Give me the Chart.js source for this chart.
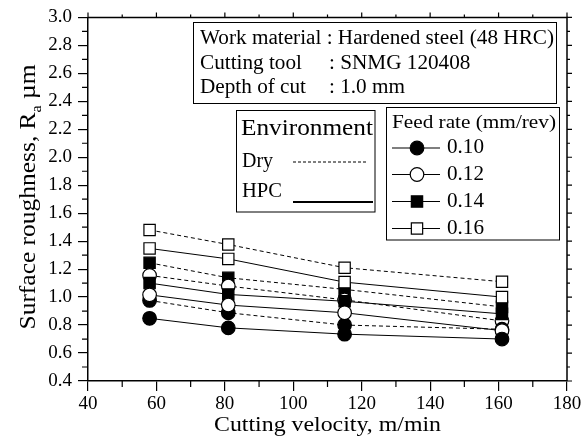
<!DOCTYPE html>
<html><head><meta charset="utf-8">
<script src="https://cdn.jsdelivr.net/npm/chart.js@4"></script>
<style>html,body{margin:0;padding:0;background:#fff}canvas{display:block}</style>
</head><body>
<canvas id="c" width="587" height="448"></canvas>
<script>
// ---- data ----
const velocities = [58, 81, 115, 161];
const feedRates = ['0.10', '0.12', '0.14', '0.16'];
const dry010 = [0.976, 0.888, 0.800, 0.770];
const dry012 = [1.155, 1.079, 0.980, 0.830];
const dry014 = [1.245, 1.138, 1.055, 0.930];
const dry016 = [1.480, 1.376, 1.210, 1.110];
const hpc010 = [0.848, 0.780, 0.735, 0.700];
const hpc012 = [1.016, 0.943, 0.888, 0.760];
const hpc014 = [1.100, 1.019, 0.970, 0.880];
const hpc016 = [1.348, 1.273, 1.107, 1.000];
const xTicks = [40, 60, 80, 100, 120, 140, 160, 180];
const yTicks = [0.4, 0.6, 0.8, 1.0, 1.2, 1.4, 1.6, 1.8, 2.0, 2.2, 2.4, 2.6, 2.8, 3.0];
const infoLabels = ['Work material', 'Cutting tool', 'Depth of cut'];
const infoValues = ['Hardened steel (48 HRC)', 'SNMG 120408', '1.0 mm'];

const FONT = "'Liberation Serif', 'Times New Roman', serif";
const markerStyles = [
  {style: 'circle', fill: '#000', r: 6.8},
  {style: 'circle', fill: '#fff', r: 6.8},
  {style: 'rect', fill: '#000', r: 8},
  {style: 'rect', fill: '#fff', r: 8}
];

function mk(arr, fi, dry) {
  const m = markerStyles[fi];
  return {
    data: velocities.map((v, i) => ({x: v, y: arr[i]})),
    showLine: true,
    borderColor: '#000',
    borderWidth: 1,
    borderDash: dry ? [4, 3] : [],
    pointStyle: m.style,
    pointRadius: m.r,
    pointHoverRadius: m.r,
    pointBackgroundColor: m.fill,
    pointBorderColor: '#000',
    pointBorderWidth: 1.2,
    fill: false,
    tension: 0
  };
}
// first datasets are drawn on top in Chart.js
const datasets = [
  mk(hpc010, 0, false), mk(hpc012, 1, false), mk(hpc014, 2, false), mk(hpc016, 3, false),
  mk(dry010, 0, true), mk(dry012, 1, true), mk(dry014, 2, true), mk(dry016, 3, true)
];

// draw text; sx = horizontal stretch factor
function txt(ctx, s, x, y, size, align, sx) {
  sx = sx || 1;
  ctx.save();
  ctx.font = size + 'px ' + FONT;
  ctx.textAlign = align || 'left';
  ctx.textBaseline = 'middle';
  ctx.fillStyle = '#000';
  ctx.translate(x, y);
  ctx.scale(sx, 1);
  ctx.fillText(s, 0, 0);
  ctx.restore();
}
function fitScale(ctx, s, size, target) {
  ctx.font = size + 'px ' + FONT;
  return target / ctx.measureText(s).width;
}

const decor = {
  id: 'decor',
  afterDraw(chart) {
    const ctx = chart.ctx;
    const a = chart.chartArea;
    const xs = chart.scales.x, ys = chart.scales.y;
    ctx.save();
    ctx.strokeStyle = '#000';
    ctx.lineWidth = 1.5;
    // frame top/right
    ctx.beginPath();
    ctx.moveTo(a.left, a.top); ctx.lineTo(a.right, a.top); ctx.lineTo(a.right, a.bottom);
    ctx.stroke();
    ctx.lineWidth = 1.2;
    ctx.beginPath();
    for (let v = 0.5; v < 3.0; v += 0.2) {
      const p = ys.getPixelForValue(v);
      ctx.moveTo(a.left - 6, p); ctx.lineTo(a.left, p);
      ctx.moveTo(a.right, p); ctx.lineTo(a.right + 3, p);
    }
    yTicks.forEach(v => { const p = ys.getPixelForValue(v); ctx.moveTo(a.right, p); ctx.lineTo(a.right + 5, p); });
    for (let v = 50; v < 180; v += 20) {
      const p = xs.getPixelForValue(v);
      ctx.moveTo(p, a.bottom); ctx.lineTo(p, a.bottom + 6);
      ctx.moveTo(p, a.top); ctx.lineTo(p, a.top - 3);
    }
    xTicks.forEach(v => { const p = xs.getPixelForValue(v); ctx.moveTo(p, a.top); ctx.lineTo(p, a.top - 5); });
    ctx.stroke();

    // info box
    ctx.lineWidth = 1;
    ctx.fillStyle = '#fff';
    ctx.fillRect(193.5, 22.5, 363, 81);
    ctx.strokeRect(193.5, 22.5, 363, 81);
    const infoY = [39, 63.5, 88];
    const line1 = infoLabels[0] + ' : ' + infoValues[0];
    const isx = fitScale(ctx, line1, 20, 354);
    txt(ctx, line1, 200, infoY[0], 20, 'left', isx);
    for (let i = 1; i < 3; i++) {
      txt(ctx, infoLabels[i], 200, infoY[i], 20, 'left', isx);
      txt(ctx, ': ' + infoValues[i], 329, infoY[i], 20, 'left', isx);
    }

    // environment box
    ctx.fillStyle = '#fff';
    ctx.fillRect(236.5, 110.5, 138.5, 101.5);
    ctx.strokeRect(236.5, 110.5, 138.5, 101.5);
    txt(ctx, 'Environment', 241, 129, 23, 'left', fitScale(ctx, 'Environment', 23, 132));
    txt(ctx, 'Dry', 242, 162, 20, 'left', fitScale(ctx, 'Dry', 20, 31));
    txt(ctx, 'HPC', 242, 192, 20, 'left', fitScale(ctx, 'HPC', 20, 40));
    ctx.beginPath();
    ctx.setLineDash([3, 2]);
    ctx.lineWidth = 1.2;
    ctx.moveTo(293, 162); ctx.lineTo(368, 162);
    ctx.stroke();
    ctx.setLineDash([]);
    ctx.lineWidth = 2;
    ctx.beginPath();
    ctx.moveTo(293, 202); ctx.lineTo(373, 202);
    ctx.stroke();

    // feed rate legend
    ctx.lineWidth = 1;
    ctx.fillStyle = '#fff';
    ctx.fillRect(386.5, 107.5, 173, 132.5);
    ctx.strokeRect(386.5, 107.5, 173, 132.5);
    txt(ctx, 'Feed rate (mm/rev)', 392, 123, 18, 'left', fitScale(ctx, 'Feed rate (mm/rev)', 18, 164));
    const ly = [148, 174.5, 201.5, 228.5];
    feedRates.forEach((f, i) => {
      ctx.lineWidth = 1.2;
      ctx.strokeStyle = '#000';
      ctx.beginPath();
      ctx.moveTo(392, ly[i]); ctx.lineTo(440, ly[i]);
      ctx.stroke();
      const m = markerStyles[i];
      ctx.fillStyle = m.fill;
      ctx.beginPath();
      if (m.style === 'circle') {
        ctx.arc(417, ly[i], m.r, 0, Math.PI * 2);
      } else {
        const s = m.r * Math.SQRT1_2;
        ctx.rect(417 - s, ly[i] - s, 2 * s, 2 * s);
      }
      ctx.fill(); ctx.stroke();
      txt(ctx, f, 447, ly[i], 20, 'left', fitScale(ctx, f, 20, 37));
    });

    // axis titles
    const xt = 'Cutting velocity, m/min';
    txt(ctx, xt, (a.left + a.right) / 2, 425, 21, 'center', fitScale(ctx, xt, 21, 227));
    ctx.save();
    ctx.translate(29, 197);
    ctx.rotate(-Math.PI / 2);
    const p1 = 'Surface roughness, R', p2 = 'a', p3 = ' \u00b5m';
    ctx.font = '24px ' + FONT;
    const w1r = ctx.measureText(p1).width;
    const w3r = ctx.measureText(p3).width;
    ctx.font = '15px ' + FONT;
    const w2r = ctx.measureText(p2).width;
    const ysx = 265 / (w1r + w2r + w3r);
    const w1 = w1r * ysx, w2 = w2r * ysx;
    let x0 = -265 / 2;
    txt(ctx, p1, x0, 0, 24, 'left', ysx);
    txt(ctx, p2, x0 + w1, 8, 15, 'left', ysx);
    txt(ctx, p3, x0 + w1 + w2, 0, 24, 'left', ysx);
    ctx.restore();
    ctx.restore();
  }
};

new Chart(document.getElementById('c'), {
  type: 'scatter',
  data: {datasets},
  options: {
    responsive: false,
    devicePixelRatio: 1,
    animation: false,
    events: [],
    layout: {padding: {left: 0, right: 20, top: 16, bottom: 0}},
    plugins: {legend: {display: false}, tooltip: {enabled: false}},
    scales: {
      x: {
        type: 'linear', min: 40, max: 180,
        afterBuildTicks: s => { s.ticks = xTicks.map(v => ({value: v})); },
        afterFit: s => { s.height = 67; },
        grid: {drawOnChartArea: false, drawTicks: true, tickLength: 10, color: '#000', lineWidth: 1.2},
        border: {display: true, color: '#000', width: 1.5},
        ticks: {color: '#000', font: {family: FONT, size: 19}, padding: 2, maxRotation: 0}
      },
      y: {
        type: 'linear', min: 0.4, max: 3.0,
        afterBuildTicks: s => { s.ticks = yTicks.map(v => ({value: v})); },
        afterFit: s => { s.width = 88; },
        grid: {drawOnChartArea: false, drawTicks: true, tickLength: 10, color: '#000', lineWidth: 1.2},
        border: {display: true, color: '#000', width: 1.5},
        ticks: {color: '#000', font: {family: FONT, size: 19}, padding: 6, callback: v => Number(v).toFixed(1)}
      }
    }
  },
  plugins: [decor]
});
</script>
</body></html>
